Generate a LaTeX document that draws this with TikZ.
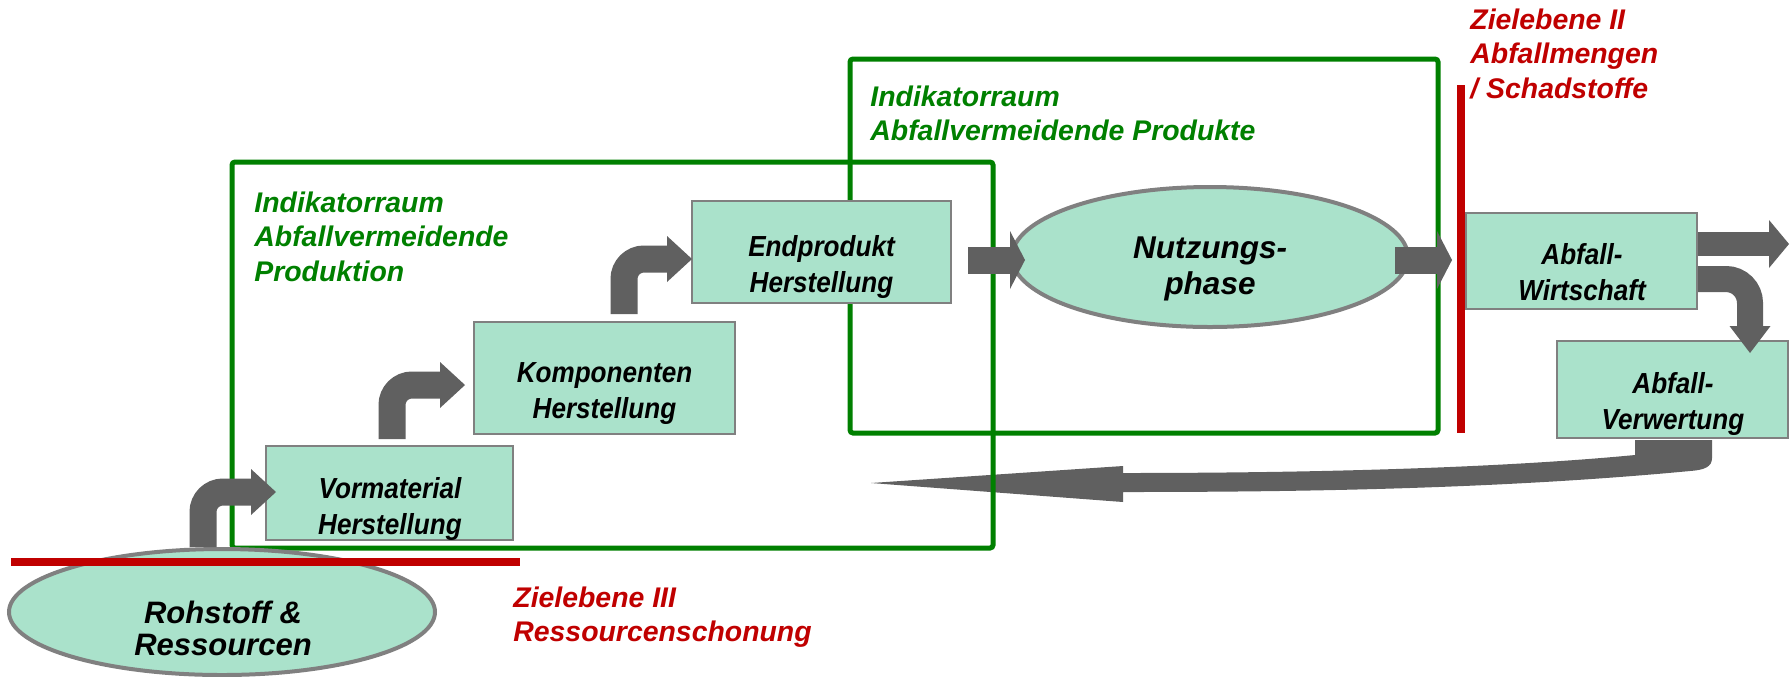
\documentclass[tikz,border=0pt]{standalone}
\usepackage{fontspec}
\setmainfont{Liberation Sans}
\newfontfamily\condfont{Liberation Sans}[FakeStretch=0.9]
\usetikzlibrary{arrows.meta,calc,shapes.geometric}
\definecolor{boxfill}{HTML}{AAE2CB}
\definecolor{boxline}{HTML}{808080}
\definecolor{agray}{HTML}{606060}
\definecolor{zgreen}{HTML}{008000}
\definecolor{zred}{HTML}{C00000}
\newcommand\ctrlines[1]{\vtop{\halign{\hfil##\hfil\cr#1\crcr}}}
\newcommand\leftlines[1]{\vtop{\halign{##\hfil\cr#1\crcr}}}
\begin{document}
\begin{tikzpicture}[x=0.5pt,y=-0.5pt,
  stage/.style={draw=boxline, line width=1pt, fill=boxfill, rectangle, inner sep=0pt},
  pool/.style={draw=boxline, line width=2pt, fill=boxfill, ellipse, inner sep=0pt},
  stagetext/.style={inner sep=0pt, anchor=base, font=\condfont\fontsize{14.5pt}{18pt}\selectfont\bfseries\itshape},
  pooltext/.style={inner sep=0pt, anchor=base, font=\fontsize{15.75pt}{18pt}\selectfont\bfseries\itshape},
  space/.style={draw=zgreen, line width=2.5pt, rounded corners=1.5pt},
  spacetext/.style={inner sep=0pt, anchor=base west, text=zgreen, font=\fontsize{14.2pt}{17.25pt}\selectfont\bfseries\itshape},
  goal/.style={draw=zred, line width=3.75pt},
  goaltext/.style={inner sep=0pt, anchor=base west, text=zred, font=\fontsize{14.2pt}{17.25pt}\selectfont\bfseries\itshape},
  flow/.style={draw=agray, line width=13.5pt},
  bigtip/.style={-{Triangle[length=12.5pt,width=23pt,line width=0pt]}},
  shorttip/.style={-{Triangle[length=7.5pt,width=29pt,line width=0pt]}}
]
\useasboundingbox (0,0) rectangle (1791,676);
\fill[white] (0,0) rectangle (1791,676);

% return arrow (under the green frames)
\coordinate (rettip) at (871,483);
\fill[agray] (1635,440) -- (1712,440) -- (1712,458)
  .. controls (1712,467) and (1704,470) .. (1690,471)
  .. controls (1500,489) and (1300,492) .. (1123,492)
  -- (1123,502) -- (rettip) -- (1123,466) -- (1123,473)
  .. controls (1350,473) and (1520,466) .. (1635,455) -- cycle;

% indicator spaces
\draw[space] (232,162) rectangle (993,548);
\draw[space] (850,59) rectangle (1438,433);
\node[spacetext] (t1) at (254,212) {\leftlines{Indikatorraum\cr Abfallvermeidende\cr Produktion}};
\node[spacetext] (t2) at (870,106) {\leftlines{Indikatorraum\cr Abfallvermeidende Produkte}};

% goal level II
\draw[goal] (1461,85) -- (1461,433);
\node[goaltext] (g2) at (1470,29) {\leftlines{Zielebene II\cr Abfallmengen\cr / Schadstoffe}};

% stages
\node[pool, minimum width=213pt, minimum height=63pt] (roh) at (222,612) {};
\node[stage, minimum width=123.5pt, minimum height=47pt] (vor) at (389.5,493) {};
\node[stage, minimum width=130.5pt, minimum height=56pt] (komp) at (604.5,378) {};
\node[stage, minimum width=129.5pt, minimum height=51pt] (endp) at (821.5,252) {};
\node[pool, minimum width=198pt, minimum height=70pt] (nutz) at (1210,257) {};
\node[stage, minimum width=115.5pt, minimum height=48pt] (wirt) at (1581.5,261) {};
\node[stage, minimum width=115.5pt, minimum height=48.5pt] (verw) at (1672.5,389.5) {};

\node[pooltext, font=\fontsize{15.5pt}{16pt}\selectfont\bfseries\itshape] (rohtxt) at (223,623) {\ctrlines{Rohstoff \&\cr Ressourcen}};
\node[stagetext] (vortxt) at (390,498) {\ctrlines{Vormaterial\cr Herstellung}};
\node[stagetext] (komptxt) at (604.5,382) {\ctrlines{Komponenten\cr Herstellung}};
\node[stagetext] (endtxt) at (821.5,256) {\ctrlines{Endprodukt\cr Herstellung}};
\node[pooltext] (nutztxt) at (1210,258) {\ctrlines{Nutzungs-\cr phase}};
\node[stagetext] (wirttxt) at (1582,264) {\ctrlines{Abfall-\cr Wirtschaft}};
\node[stagetext] (verwtxt) at (1673,393) {\ctrlines{Abfall-\cr Verwertung}};

% goal level III
\draw[goal] (11,562) -- (520,562);
\node[goaltext] (g3) at (513,607) {\leftlines{Zielebene III\cr Ressourcenschonung}};

% flows
\draw[flow, bigtip, rounded corners=10pt] ([xshift=-9.5pt]roh.north) |- ([xshift=5.5pt,yshift=0.5pt]vor.west);
\draw[flow, bigtip, rounded corners=10pt] ([xshift=1.25pt,yshift=3pt]vor.north) |- ([xshift=-4pt,yshift=-3.5pt]komp.west);
\draw[flow, bigtip, rounded corners=10pt] ([xshift=9.75pt,yshift=3.5pt]komp.north) |- ([xshift=0.5pt,yshift=-3.5pt]endp.west);
\draw[flow, shorttip] ([xshift=8pt,yshift=-4pt]endp.east) -- ([xshift=7.5pt,yshift=-1.5pt]nutz.west);
\draw[flow, shorttip] ([xshift=-7.5pt,yshift=-1.5pt]nutz.east) -- ([xshift=-6.5pt,yshift=0.5pt]wirt.west);
\coordinate (outtip) at (1789,244);
\draw[flow, line width=12pt, -{Triangle[length=10pt,width=24pt,line width=0pt]}] ([yshift=8.5pt]wirt.east) -- (outtip);
\draw[flow, line width=13pt, rounded corners=12pt, -{Triangle[length=13.5pt,width=20.5pt,line width=0pt]}] ([yshift=-9pt]wirt.east) -| ([xshift=38.75pt,yshift=-6.5pt]verw.north);
\end{tikzpicture}
\end{document}
